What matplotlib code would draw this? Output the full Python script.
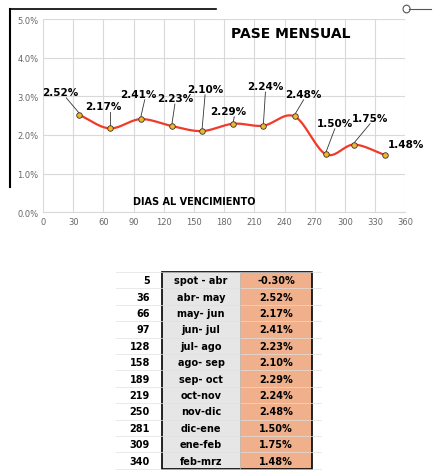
import matplotlib
matplotlib.use("Agg")
import matplotlib.pyplot as plt
import numpy as np
from matplotlib.lines import Line2D
from matplotlib.patches import Rectangle, Circle

# Datos
dias = [5, 36, 66, 97, 128, 158, 189, 219, 250, 281, 309, 340]
tramos = ["spot - abr", "abr- may", "may- jun", "jun- jul", "jul- ago", "ago- sep",
          "sep- oct", "oct-nov", "nov-dic", "dic-ene", "ene-feb", "feb-mrz"]
pase = [-0.30, 2.52, 2.17, 2.41, 2.23, 2.10, 2.29, 2.24, 2.48, 1.50, 1.75, 1.48]

# desplazamiento del centro de cada etiqueta (dx en días, dy en %)
offs = [None, (-19, 0.59), (-6, 0.58), (-2, 0.65), (3, 0.72), (3, 1.09),
        (-5, 0.33), (2, 1.02), (9, 0.58), (9, 0.81), (16, 0.69), (21, 0.28)]
lead = [False, True, True, True, True, True, True, True, True, True, True, False]

plt.rcParams["font.family"] = "DejaVu Sans"

fig = plt.figure(figsize=(4.4, 4.77), dpi=100)
ax = fig.add_axes([0.098, 0.553, 0.823, 0.405])

x = np.array(dias[1:], float)
y = np.array(pase[1:], float)

# suavizado tipo Catmull-Rom para el trazo
xs, ys = [], []
px = np.concatenate([[2 * x[0] - x[1]], x, [2 * x[-1] - x[-2]]])
py = np.concatenate([[2 * y[0] - y[1]], y, [2 * y[-1] - y[-2]]])
t = np.linspace(0, 1, 20)
for i in range(1, len(px) - 2):
    for P, out in ((px, xs), (py, ys)):
        p0, p1, p2, p3 = P[i - 1], P[i], P[i + 1], P[i + 2]
        out.extend(0.5 * ((2 * p1) + (-p0 + p2) * t + (2 * p0 - 5 * p1 + 4 * p2 - p3) * t**2
                          + (-p0 + 3 * p1 - 3 * p2 + p3) * t**3))
ax.plot(xs, ys, color="#f03a2a", lw=1.6, zorder=3)
ax.scatter(x, y, s=16, color="#f2b62a", edgecolor="#333333", linewidth=0.6, zorder=4)

for xi, yi, o, ld in zip(x, y, offs[1:], lead[1:]):
    lx, ly = xi + o[0], yi + o[1]
    ax.text(lx, ly, f"{yi:.2f}%", fontsize=7.5, fontweight="bold", ha="center", va="center", zorder=5)
    if ld:
        ax.plot([lx + (6 if o[0] < 0 else 0), xi], [ly - 0.15, yi + 0.04], color="#333333", lw=0.6, zorder=2)

ax.text(246, 4.64, "PASE MENSUAL", fontsize=10, fontweight="bold", ha="center", va="center")
ax.text(150, 0.3, "DIAS AL VENCIMIENTO", fontsize=7, fontweight="bold", ha="center", va="center")

ax.set_xlim(0, 360)
ax.set_ylim(0, 5)
ax.set_xticks(range(0, 361, 30))
ax.set_yticks(np.arange(0, 5.1, 1))
ax.set_yticklabels([f"{v:.1f}%" for v in np.arange(0, 5.1, 1)])
ax.tick_params(labelsize=6, colors="#666666", length=0)
ax.grid(True, color="#d9d9d9", lw=0.8)
for s in ax.spines.values():
    s.set_visible(False)
ax.spines["bottom"].set_visible(True)
ax.spines["bottom"].set_color("#d9d9d9")

# marcos del recorte
fig.add_artist(Line2D([0.023, 0.49], [0.979, 0.979], color="black", lw=1.2))
fig.add_artist(Line2D([0.023, 0.023], [0.979, 0.606], color="black", lw=1.5))
fig.add_artist(Line2D([0.93, 0.98], [0.979, 0.979], color="#555555", lw=0.8))
fig.add_artist(Circle((0.924, 0.979), 0.008, transform=fig.transFigure, fill=False, lw=0.8, color="#555555"))

# tabla
top, rh = 1 - 273 / 477, 16.4 / 477
c1, c2a, c2b, c3b = 120 / 440, 162 / 440, 240 / 440, 312 / 440
fig.add_artist(Rectangle((c2a, top - 12 * rh), c2b - c2a, 12 * rh, transform=fig.transFigure,
                         facecolor="#e6e6e6", edgecolor="none"))
fig.add_artist(Rectangle((c2b, top - 12 * rh), c3b - c2b, 12 * rh, transform=fig.transFigure,
                         facecolor="#efb08b", edgecolor="none"))
for i in range(13):
    yy = top - i * rh
    fig.add_artist(Line2D([c1 - 0.01, c3b + 0.02], [yy, yy], color="#e0e0e0", lw=0.5))
fig.add_artist(Rectangle((c2a, top - 12 * rh), c3b - c2a, 12 * rh, transform=fig.transFigure,
                         facecolor="none", edgecolor="black", lw=1.2))
fig.add_artist(Line2D([c2b, c2b], [top, top - 12 * rh], color="#bbbbbb", lw=0.5))
for i, (d, tr, p) in enumerate(zip(dias, tramos, pase)):
    yy = top - (i + 0.5) * rh
    fig.text(150 / 440, yy, str(d), fontsize=7, fontweight="bold", ha="right", va="center")
    fig.text((c2a + c2b) / 2, yy, tr, fontsize=7, fontweight="bold", ha="center", va="center")
    fig.text((c2b + c3b) / 2, yy, f"{p:.2f}%", fontsize=7, fontweight="bold", ha="center", va="center")

fig.savefig("out.png", dpi=100)
